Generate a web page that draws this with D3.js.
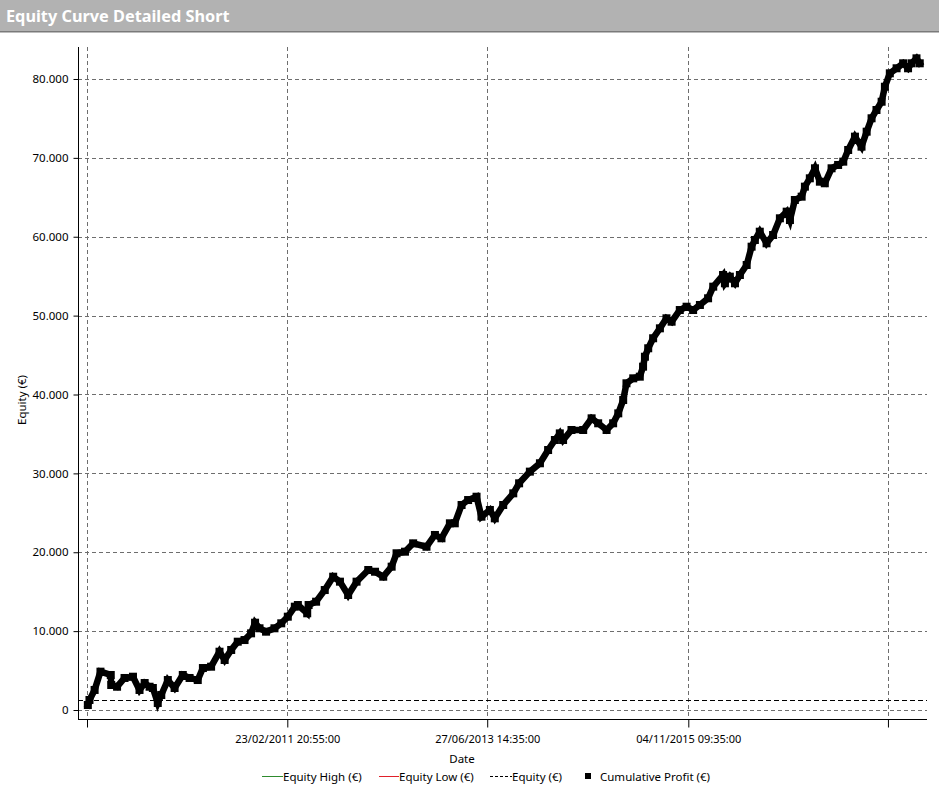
<!DOCTYPE html>
<html><head><meta charset="utf-8">
<script src="https://cdn.jsdelivr.net/npm/d3@7"></script>
<style>
html,body{margin:0;padding:0;background:#fff;}
svg{display:block;font-family:"Noto Sans","Open Sans",sans-serif;}
</style></head>
<body>
<svg id="chart" width="939" height="790"></svg>
<script>
// ---- data ----
const title = "Equity Curve Detailed Short";
const dates = ["2008-10-24","2008-10-31","2008-11-22","2008-12-17","2009-01-30","2009-02-01","2009-02-26","2009-03-30","2009-05-05","2009-06-02","2009-06-24","2009-07-15","2009-07-29","2009-08-19","2009-09-03","2009-10-01","2009-10-30","2009-12-04","2010-01-02","2010-02-06","2010-02-28","2010-04-04","2010-05-10","2010-06-01","2010-06-29","2010-07-27","2010-08-25","2010-09-22","2010-10-09","2010-10-28","2010-11-25","2010-12-31","2011-01-29","2011-02-26","2011-03-28","2011-04-10","2011-05-20","2011-05-26","2011-06-27","2011-08-03","2011-09-08","2011-10-07","2011-11-11","2011-12-17","2012-02-05","2012-03-05","2012-04-09","2012-05-15","2012-06-05","2012-07-11","2012-08-15","2012-10-11","2012-11-16","2012-12-14","2013-01-19","2013-02-09","2013-03-10","2013-04-07","2013-05-13","2013-06-03","2013-07-09","2013-07-30","2013-09-04","2013-10-17","2013-11-11","2013-12-27","2014-02-08","2014-03-15","2014-04-13","2014-05-04","2014-05-18","2014-06-23","2014-08-12","2014-09-17","2014-10-15","2014-11-20","2014-12-18","2015-01-09","2015-01-30","2015-02-13","2015-03-14","2015-04-11","2015-04-25","2015-05-03","2015-05-17","2015-06-07","2015-07-06","2015-08-03","2015-08-25","2015-09-29","2015-10-28","2015-11-25","2015-12-24","2016-01-28","2016-02-19","2016-04-01","2016-04-09","2016-04-30","2016-05-22","2016-06-12","2016-07-11","2016-08-01","2016-08-15","2016-09-05","2016-10-04","2016-11-01","2016-11-30","2016-12-29","2017-01-12","2017-02-02","2017-03-03","2017-03-17","2017-04-07","2017-04-29","2017-05-20","2017-06-10","2017-07-09","2017-08-06","2017-08-28","2017-09-18","2017-10-17","2017-11-14","2017-12-06","2017-12-27","2018-01-17","2018-02-08","2018-02-22","2018-03-15","2018-04-13","2018-05-11","2018-06-01","2018-06-16","2018-07-07","2018-07-21"];
const cumulativeProfit = [630,1270,2540,4860,4440,3170,2950,4060,4220,2540,3420,2950,2790,890,1900,3800,2790,4440,4060,3800,5320,5490,7390,6340,7610,8660,8870,9720,11070,10360,9930,10360,10990,11830,13100,13310,12260,13310,13730,15210,16900,16270,14580,16270,17750,17530,16900,18170,19870,20070,21130,20700,22190,21770,23670,23670,25990,26620,27040,24510,25360,24300,25990,27470,28740,30220,31280,32960,34230,35070,34230,35500,35500,36980,36350,35500,36350,37610,39300,41420,42050,42260,43530,44790,45860,47130,48390,49660,49230,50710,51130,50710,51350,52200,53670,55150,54100,54940,54100,55150,56420,58740,59590,60640,59170,60220,62340,63180,62120,64660,65080,66350,67410,68680,66980,66780,68680,69100,69520,71000,72690,71420,73320,75020,76070,77120,79020,80720,81360,81990,81360,81990,82620,81990];
const equityLevel = 1270;
const xDomain = ["2008-09-11T23:00:00","2018-08-21T00:00:00"];
const xTickDates = ["2008-10-20T12:00:00","2011-02-23T20:55:00","2013-06-27T14:35:00","2015-11-04T09:35:00","2018-03-07T00:00:00"];
const xTickLabels = ["","23/02/2011 20:55:00","27/06/2013 14:35:00","04/11/2015 09:35:00",""];
const yTicks = [0,10000,20000,30000,40000,50000,60000,70000,80000];
const yDomain = [-1141, 84057];
const legendItems = ["Equity High (€)","Equity Low (€)","Equity (€)","Cumulative Profit (€)"];

// ---- drawing ----
(function(){
const svg = d3.select("#chart");
const W = 939, H = 790;
const pL = 78, pR = 927, pT = 47, pB = 719;
const parse = s => new Date(s);

// header
svg.append("rect").attr("x",0).attr("y",0).attr("width",W).attr("height",31).attr("fill","#b2b2b2");
svg.append("rect").attr("x",0).attr("y",31).attr("width",W).attr("height",1.5).attr("fill","#7a7a7a");
svg.append("text").attr("x",6).attr("y",22).attr("fill","#fff")
  .attr("font-size",16.3).attr("font-weight","bold").text(title);

const x = d3.scaleTime().domain(xDomain.map(parse)).range([pL, pR]);
const y = d3.scaleLinear().domain(yDomain).range([pB, pT]);

const fmt = v => d3.format(",")(v).replace(/,/g,".");

// grid
const grid = svg.append("g");
grid.selectAll(".hg").data(yTicks).join("line")
  .attr("x1",pL).attr("x2",pR)
  .attr("y1",d=>Math.round(y(d))+0.5).attr("y2",d=>Math.round(y(d))+0.5)
  .attr("stroke","#6e6e6e").attr("stroke-width",1).attr("stroke-dasharray","4,3");
grid.selectAll(".vg").data(xTickDates).join("line")
  .attr("x1",d=>Math.round(x(parse(d)))+0.5).attr("x2",d=>Math.round(x(parse(d)))+0.5)
  .attr("y1",pT).attr("y2",pB)
  .attr("stroke","#6e6e6e").attr("stroke-width",1).attr("stroke-dasharray","4,3");

// equity dashed line
svg.append("line").attr("x1",pL).attr("x2",pR)
  .attr("y1",Math.round(y(equityLevel))+0.5).attr("y2",Math.round(y(equityLevel))+0.5)
  .attr("stroke","#000").attr("stroke-width",1).attr("stroke-dasharray","5,3");

// axes
const yAxis = d3.axisLeft(y).tickValues(yTicks).tickFormat(fmt).tickSize(5).tickPadding(5);
const gy = svg.append("g").attr("transform",`translate(${pL+0.5},0)`).call(yAxis);
gy.select(".domain").attr("d",`M0,${pT}V${pB+0.5}`);
gy.selectAll("text").attr("font-size",11.5).attr("fill","#000").attr("font-family","Noto Sans");

const xAxis = d3.axisBottom(x).tickValues(xTickDates.map(parse))
  .tickFormat((d,i)=>xTickLabels[i]).tickSize(8).tickPadding(8);
const gx = svg.append("g").attr("transform",`translate(0,${pB+0.5})`).call(xAxis);
gx.select(".domain").attr("d",`M${pL},0H${pR}`);
gx.selectAll("text").attr("font-size",11).attr("fill","#000").attr("font-family","Noto Sans");

// series
const pts = dates.map((d,i)=>({d:parse(d), v:cumulativeProfit[i]}));
const line = d3.line().x(p=>x(p.d)).y(p=>y(p.v));
svg.append("path").datum(pts).attr("d",line).attr("fill","none")
  .attr("stroke","#000").attr("stroke-width",6.5).attr("stroke-linejoin","miter").attr("stroke-linecap","square");
svg.append("g").selectAll("rect").data(pts).join("rect")
  .attr("x",p=>x(p.d)-4).attr("y",p=>y(p.v)-4).attr("width",8).attr("height",8).attr("fill","#000");

// axis titles
svg.append("text").attr("x",462).attr("y",763).attr("text-anchor","middle").attr("font-size",11.5).text("Date");
svg.append("text").attr("transform","translate(26,400) rotate(-90)").attr("text-anchor","middle").attr("font-size",11.5).text("Equity (€)");

// legend
const lg = svg.append("g").attr("font-size",11.5);
const ly = 776;
lg.append("line").attr("x1",262).attr("x2",283).attr("y1",ly+0.5).attr("y2",ly+0.5).attr("stroke","#2e8b2e");
lg.append("text").attr("x",283).attr("y",ly+4.5).text(legendItems[0]);
lg.append("line").attr("x1",379).attr("x2",399).attr("y1",ly+0.5).attr("y2",ly+0.5).attr("stroke","#e0202a");
lg.append("text").attr("x",399).attr("y",ly+4.5).text(legendItems[1]);
lg.append("line").attr("x1",490).attr("x2",512).attr("y1",ly+0.5).attr("y2",ly+0.5).attr("stroke","#000").attr("stroke-dasharray","3,2");
lg.append("text").attr("x",512).attr("y",ly+4.5).text(legendItems[2]);
lg.append("rect").attr("x",585).attr("y",ly-3).attr("width",6).attr("height",6).attr("fill","#000");
lg.append("text").attr("x",600).attr("y",ly+4.5).text(legendItems[3]);
})();
</script>
</body></html>
